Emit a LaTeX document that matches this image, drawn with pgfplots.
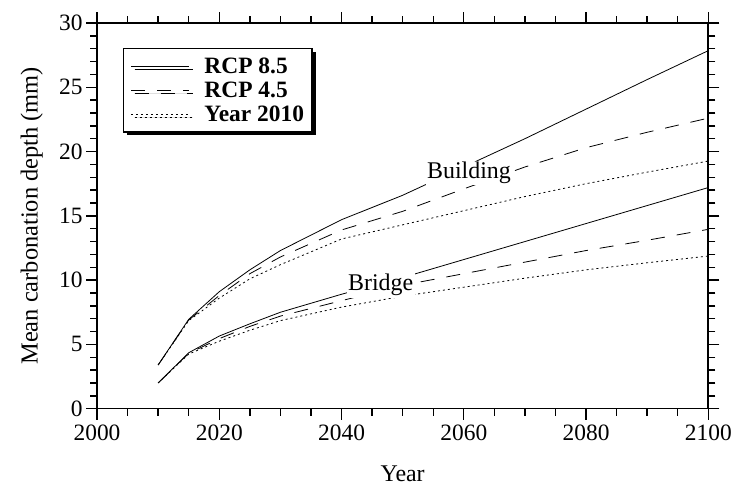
\documentclass[border=0pt]{standalone}
\usepackage{fontspec}
\setmainfont{Liberation Serif}
\usepackage{pgfplots}
\pgfplotsset{compat=1.18}
\usetikzlibrary{shadows}

\begin{document}
\begin{tikzpicture}
\begin{axis}[
  name=ax,
  scale only axis,
  width=611bp, height=385.5bp,
  xmin=2000, xmax=2100, ymin=0, ymax=30,
  xtick={2000,2020,...,2100},
  ytick={0,5,...,30},
  minor x tick num=3,
  minor y tick num=4,
  tick align=outside,
  tick pos=both,
  major tick length=11bp,
  minor tick length=7bp,
  every tick/.style={black, line width=1.4bp},
  axis line style={line width=1.6bp},
  /pgf/number format/assume math mode=true,
  /pgf/number format/1000 sep={},
  ticklabel style={font=\fontsize{23.5}{26}\selectfont},
  xticklabel style={yshift=-2bp},
  xlabel={Year},
  ylabel={Mean carbonation depth (mm)},
  every axis x label/.style={at={(axis description cs:0.5,-0.168)}, anchor=center,
    font=\fontsize{24}{26}\selectfont},
  every axis y label/.style={at={(axis description cs:-0.107,0.5)}, rotate=90, anchor=center,
    font=\fontsize{24.5}{26}\selectfont},
  legend cell align=left,
  legend image code/.code={\draw[#1] (0bp,0bp) -- (58bp,0bp);},
  legend style={at={(axis description cs:0.0425,0.935)}, anchor=north west,
    draw=black, line width=1.3bp, fill=white,
    font=\bfseries\fontsize{23.5}{25}\selectfont,
    inner xsep=7bp, inner ysep=8bp, row sep=5bp,
    nodes={inner sep=1bp},
    /tikz/every odd column/.append style={column sep=14bp},
    drop shadow={shadow xshift=3.5bp, shadow yshift=-3.5bp, fill=black, opacity=1}},
]
% Building
\addplot[black, line width=0.8bp] coordinates {
  (2010,3.4)(2015,6.95)(2020,9.1)(2025,10.8)(2030,12.3)(2040,14.7)(2050,16.6)
  (2060,18.8)(2070,21.0)(2080,23.3)(2090,25.6)(2100,27.85)};
\addlegendentry{RCP 8.5}
\addplot[black, line width=0.8bp, dash pattern=on 14bp off 12bp] coordinates {
  (2010,3.4)(2015,6.9)(2020,8.8)(2025,10.5)(2030,11.8)(2040,13.9)(2050,15.35)
  (2060,17.1)(2070,18.8)(2080,20.3)(2090,21.5)(2100,22.6)};
\addlegendentry{RCP 4.5}
\addplot[black, line width=0.8bp, dash pattern=on 2bp off 3bp] coordinates {
  (2010,3.4)(2015,6.85)(2020,8.6)(2025,10.1)(2030,11.2)(2040,13.2)(2050,14.3)
  (2060,15.4)(2070,16.5)(2080,17.5)(2090,18.4)(2100,19.26)};
\addlegendentry{Year 2010}
% Bridge
\addplot[black, line width=0.8bp, forget plot] coordinates {
  (2010,2.0)(2015,4.35)(2020,5.65)(2025,6.6)(2030,7.5)(2040,8.9)(2050,10.2)
  (2060,11.6)(2070,13.0)(2080,14.4)(2090,15.8)(2100,17.2)};
\addplot[black, line width=0.8bp, dash pattern=on 14bp off 12bp, forget plot] coordinates {
  (2010,2.0)(2015,4.3)(2020,5.45)(2025,6.4)(2030,7.2)(2040,8.4)(2050,9.6)
  (2060,10.5)(2070,11.4)(2080,12.3)(2090,13.1)(2100,13.95)};
\addplot[black, line width=0.8bp, dash pattern=on 2bp off 3bp, forget plot] coordinates {
  (2010,2.0)(2015,4.25)(2020,5.25)(2025,6.1)(2030,6.85)(2040,7.9)(2050,8.75)
  (2060,9.45)(2070,10.15)(2080,10.8)(2090,11.35)(2100,11.87)};
\node[fill=white, inner sep=1.5bp, font=\fontsize{24}{26}\selectfont] at (axis cs:2060.85,18.33) {Building};
\node[fill=white, inner sep=1.5bp, font=\fontsize{24}{26}\selectfont] at (axis cs:2046.4,9.6) {Bridge};
\end{axis}
\pgfresetboundingbox
\path ([shift={(-97bp,-77.5bp)}]ax.south west) rectangle ([shift={(27.7bp,23bp)}]ax.north east);
\end{tikzpicture}
\end{document}
